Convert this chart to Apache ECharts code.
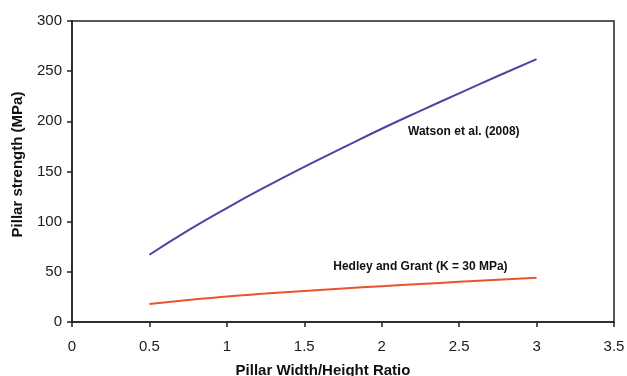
<!DOCTYPE html>
<html>
<head>
<meta charset="utf-8">
<script src="https://cdn.jsdelivr.net/npm/echarts@6/dist/echarts.min.js"></script>
<style>
  html, body { margin: 0; padding: 0; background: #fff; }
  #chart { width: 627px; height: 376px; }
</style>
</head>
<body>
<div id="chart"></div>
<script>
// width/height ratio
const ratio = [0.5, 0.75, 1, 1.25, 1.5, 1.75, 2, 2.25, 2.5, 2.75, 3]
// Watson et al. (2008)
const watson = [67, 91.3, 113.6, 134.6, 154.6, 173.7, 192.6, 210.5, 227.9, 245.2, 262]
// Hedley and Grant (K = 30 MPa)
const hedley = [18, 22, 25.5, 28.3, 31, 33.4, 35.7, 37.9, 40, 42, 44]

const watsonLabel = 'Watson et al. (2008)'
const hedleyLabel = 'Hedley and Grant (K = 30 MPa)'

const pair = (xs, ys) => xs.map((x, i) => [x, ys[i]])

const chart = echarts.init(document.getElementById('chart'))
const tickText = { color: '#1a1a1a', fontSize: 15, fontFamily: 'Liberation Sans, Arial, sans-serif' }

chart.setOption({
  animation: false,
  backgroundColor: '#fff',
  grid: {
    left: 72,
    right: 13,
    top: 21,
    bottom: 54,
    containLabel: false,
    outerBoundsMode: 'none',
    show: true,
    borderColor: '#222',
    borderWidth: 1.5,
    backgroundColor: 'transparent',
  },
  xAxis: {
    type: 'value',
    min: 0,
    max: 3.5,
    interval: 0.5,
    name: 'Pillar Width/Height Ratio',
    nameLocation: 'middle',
    nameGap: 41,
    nameTextStyle: {
      color: '#111',
      fontSize: 15,
      fontWeight: 'bold',
      fontFamily: 'Liberation Sans, Arial, sans-serif',
      padding: [0, 40, 0, 0],
    },
    axisLine: { show: true, lineStyle: { color: '#222', width: 1.5 } },
    axisTick: { show: true, length: 5, lineStyle: { color: '#222', width: 1.5 } },
    axisLabel: Object.assign({ margin: 17, showMinLabel: true, showMaxLabel: true }, tickText),
    splitLine: { show: false },
  },
  yAxis: {
    type: 'value',
    min: 0,
    max: 300,
    interval: 50,
    name: 'Pillar strength (MPa)',
    nameLocation: 'middle',
    nameGap: 47,
    nameTextStyle: {
      color: '#111',
      fontSize: 15,
      fontWeight: 'bold',
      fontFamily: 'Liberation Sans, Arial, sans-serif',
      padding: [0, 0, 0, 14],
    },
    axisLine: { show: true, lineStyle: { color: '#222', width: 1.5 } },
    axisTick: { show: true, length: 5, lineStyle: { color: '#222', width: 1.5 } },
    axisLabel: Object.assign({ margin: 10 }, tickText),
    splitLine: { show: false },
  },
  series: [
    {
      type: 'line',
      name: watsonLabel,
      data: pair(ratio, watson),
      smooth: true,
      showSymbol: false,
      lineStyle: { color: '#4b44a2', width: 2 },
      markPoint: {
        symbol: 'circle',
        symbolSize: 0,
        label: {
          show: true,
          position: 'inside',
          formatter: watsonLabel,
          color: '#111',
          fontSize: 12,
          fontWeight: 'bold',
          fontFamily: 'Liberation Sans, Arial, sans-serif',
        },
        data: [{ coord: [2.53, 190] }],
      },
    },
    {
      type: 'line',
      name: hedleyLabel,
      data: pair(ratio, hedley),
      smooth: true,
      showSymbol: false,
      lineStyle: { color: '#e8542c', width: 2 },
      markPoint: {
        symbol: 'circle',
        symbolSize: 0,
        label: {
          show: true,
          position: 'inside',
          formatter: hedleyLabel,
          color: '#111',
          fontSize: 12,
          fontWeight: 'bold',
          fontFamily: 'Liberation Sans, Arial, sans-serif',
        },
        data: [{ coord: [2.25, 55] }],
      },
    },
  ],
})
</script>
</body>
</html>
